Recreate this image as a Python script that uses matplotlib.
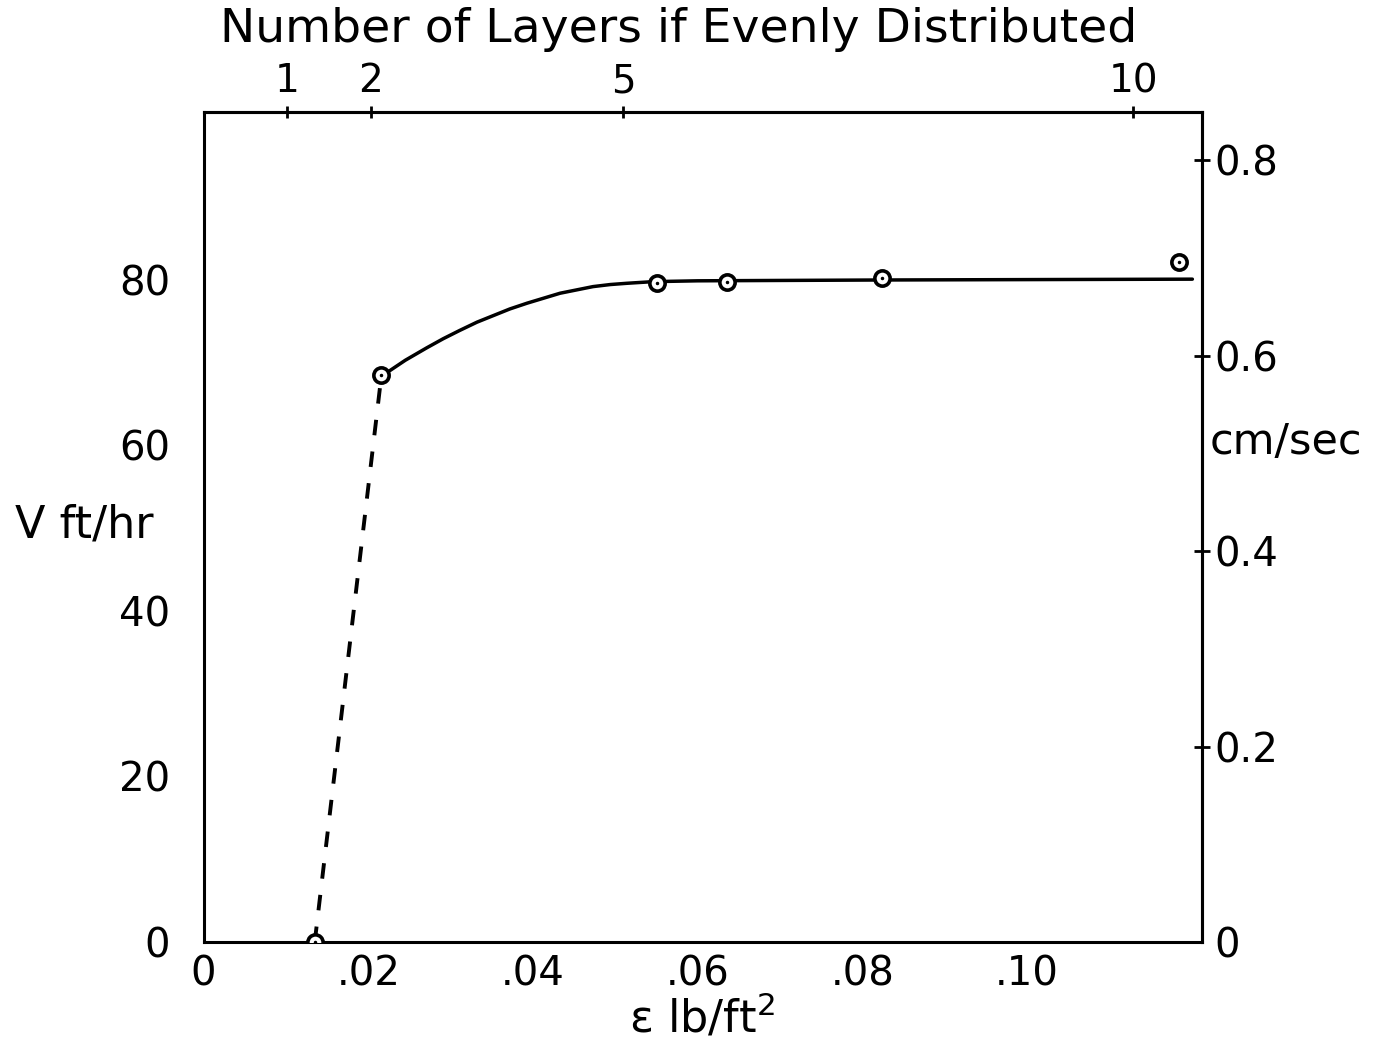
import numpy as np
import matplotlib.pyplot as plt

plt.rcParams['font.family'] = 'DejaVu Sans'
plt.rcParams['mathtext.fontset'] = 'dejavusans'

# measured points: loading (lb/ft^2) against rise velocity (ft/hr)
eps_pts = [0.0135, 0.0216, 0.0551, 0.0636, 0.0824, 0.1185]
vel_pts = [0.0, 68.5, 79.6, 79.7, 80.2, 82.2]

# faired curve through the upper points
eps_curve = [0.0218, 0.0245, 0.0271, 0.0291, 0.0311, 0.0332, 0.0352, 0.0372,
             0.0393, 0.0413, 0.0433, 0.0453, 0.0473, 0.0494, 0.0514, 0.0546,
             0.0600, 0.0824, 0.1201]
vel_curve = [68.5, 70.3, 71.8, 72.9, 73.9, 74.9, 75.7, 76.5,
             77.2, 77.8, 78.4, 78.8, 79.2, 79.45, 79.6, 79.8,
             79.9, 80.0, 80.1]

# dashed extrapolation down to zero velocity
eps_dash = [0.0135, 0.0216]
vel_dash = [0.0, 68.5]

eps_ticks = [0, 0.02, 0.04, 0.06, 0.08, 0.10]
eps_labels = ['0', '.02', '.04', '.06', '.08', '.10']
vel_ticks = [0, 20, 40, 60, 80]
vel_labels = ['0', '20', '40', '60', '80']
cms_ticks = [0, 0.2, 0.4, 0.6, 0.8]
cms_labels = ['0', '0.2', '0.4', '0.6', '0.8']
layer_eps = [0.0101, 0.0203, 0.0510, 0.1129]
layer_labels = ['1', '2', '5', '10']

FT_HR_TO_CM_S = 30.48 / 3600.0

W, H = 1378, 1055
fig = plt.figure(figsize=(W / 100, H / 100), dpi=100)
ax = fig.add_axes([203.6 / W, (H - 942) / H, (1202 - 203.6) / W, (942 - 112) / H])

ax.plot(eps_dash, vel_dash, color='black', lw=2.8, linestyle=(0, (4.0, 4.2)))
ax.plot(eps_curve, vel_curve, color='black', lw=2.5,
        solid_capstyle='round', solid_joinstyle='round')
ax.plot(eps_pts, vel_pts, 'o', ms=11, mfc='white', mec='black', mew=2.6, zorder=5)
ax.plot(eps_pts, vel_pts, '.', ms=3, color='black', zorder=6)

ax.set_xlim(0, 0.12127)
ax.set_ylim(0, 100.3)
for s in ax.spines.values():
    s.set_linewidth(2.2)

ax.set_xticks(eps_ticks, labels=eps_labels)
ax.set_yticks(vel_ticks, labels=vel_labels)
ax.tick_params(axis='x', length=0, pad=9, labelsize=29)
ax.tick_params(axis='y', length=0, pad=24, labelsize=29)

# top scale: equivalent number of layers
top = ax.secondary_xaxis('top')
top.set_xticks(layer_eps, labels=layer_labels)
top.tick_params(direction='inout', length=9, width=2, pad=4, labelsize=28)
top.spines['top'].set_linewidth(2.2)

# right scale: velocity in cm/sec
right = ax.secondary_yaxis('right', functions=(lambda v: v * FT_HR_TO_CM_S,
                                               lambda c: c / FT_HR_TO_CM_S))
right.set_yticks(cms_ticks, labels=cms_labels)
right.tick_params(direction='inout', length=12, width=2, pad=3, labelsize=29)
right.spines['right'].set_linewidth(2.2)
t0 = right.yaxis.get_major_ticks()[0]
t0.tick1line.set_visible(False)
t0.tick2line.set_visible(False)

fig.text(679 / W, 1 - 30 / H, 'Number of Layers if Evenly Distributed',
         ha='center', va='center', fontsize=34)
fig.text(15 / W, 1 - 525 / H, 'V ft/hr', ha='left', va='center', fontsize=32)
fig.text(1210 / W, 1 - 442 / H, 'cm/sec', ha='left', va='center', fontsize=31)
fig.text(702 / W, 1 - 1018 / H, 'ε lb/ft$^2$', ha='center', va='center', fontsize=32)

fig.savefig('out.png', dpi=100, facecolor='white')
